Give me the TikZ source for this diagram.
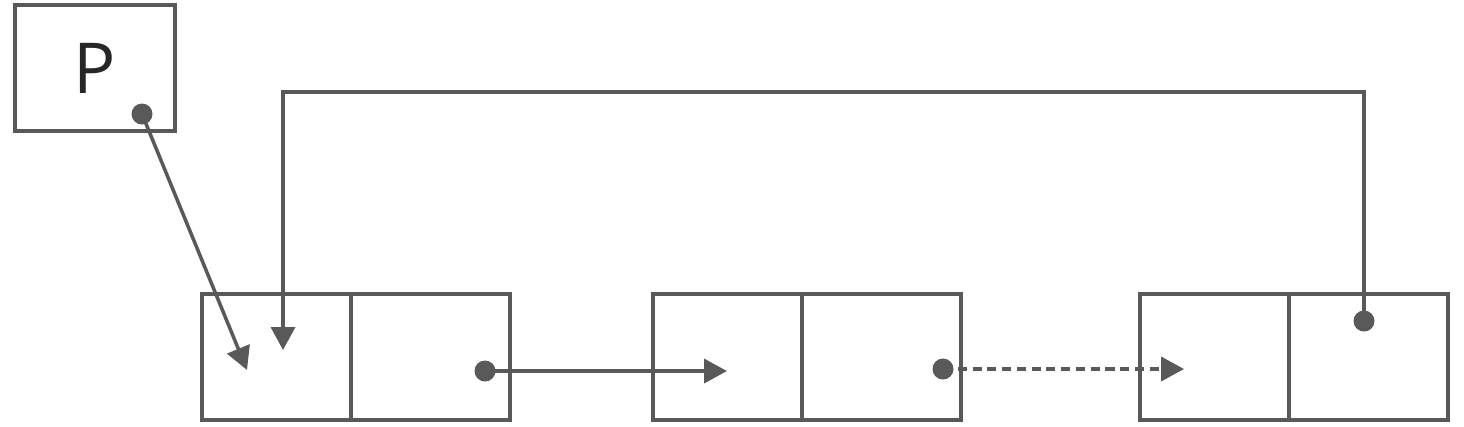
\documentclass[tikz,border=0pt]{standalone}
\usepackage{fontspec}
\setmainfont{Open Sans}
\usetikzlibrary{arrows.meta}

\begin{document}
\begin{tikzpicture}[line width=1pt,
    cell/.style={draw=linegray,minimum height=1.26cm,inner sep=0pt,outer sep=0pt,anchor=west},
    dot/.style={circle,fill=linegray,inner sep=0pt,minimum size=0.21cm},
    link/.style={draw=linegray,-{Triangle[length=6.5pt,width=6.8pt]}}]
\definecolor{linegray}{HTML}{595959}
\useasboundingbox (0,0) rectangle (14.64,4.26);
% pointer box
\node[cell,anchor=center,minimum width=1.6cm,font=\fontsize{20}{24}\selectfont,text=black!85] (P) at (0.95,3.58) {P};
% list nodes: left cell and right cell
\foreach \X [count=\Y] in {2.02,6.53,11.40}
    {\node[cell,minimum width=1.49cm] (N-\Y-a) at (\X,0.69) {};
    \node[cell,minimum width=1.59cm] (N-\Y-b) at (N-\Y-a.east) {};}
\node[dot] (P-d) at (1.42,3.12) {};
\node[dot] (N-1-d) at (4.85,0.55) {};
\node[dot] (N-2-d) at (9.43,0.57) {};
\node[dot] (N-3-d) at (13.64,1.05) {};
\coordinate (t-0) at (2.47,0.56);
\coordinate (t-1) at (7.27,0.55);
\coordinate (t-2) at (11.84,0.57);
\coordinate (t-3) at (2.83,0.76);
\path[link] (P-d.center) -- (t-0);
\path[link] (N-1-d.center) -- (t-1);
\path[link,dash pattern=on 2.6pt off 1.6pt] (N-2-d.center) -- (t-2);
\path[link] (N-3-d.center) |- (2.83,3.34) -- (t-3);
\end{tikzpicture}
\end{document}
